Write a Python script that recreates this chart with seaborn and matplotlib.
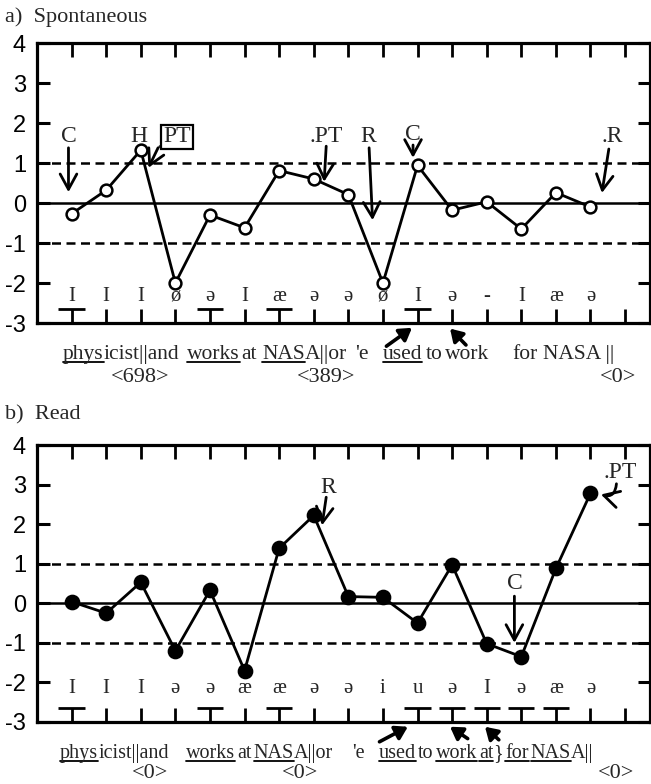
import matplotlib
matplotlib.use("Agg")
import matplotlib.pyplot as plt
from matplotlib.lines import Line2D
import numpy as np
import pandas as pd
import seaborn as sns

# ---------------- data ----------------
positions = list(range(1, 17))
spont_values = [-0.27, 0.32, 1.32, -2.0, -0.3, -0.62, 0.81, 0.6, 0.21, -2.0, 0.94, -0.18, 0.03, -0.65, 0.26, -0.1]
read_values = [0.04, -0.25, 0.53, -1.2, 0.33, -1.7, 1.39, 2.22, 0.17, 0.15, -0.5, 0.97, -1.02, -1.35, 0.88, 2.78]
spont_phonemes = ['I', 'I', 'I', 'ø', 'ə', 'I', 'æ', 'ə', 'ə', 'ø', 'I', 'ə', '-', 'I', 'æ', 'ə']
read_phonemes = ['I', 'I', 'I', 'ə', 'ə', 'æ', 'æ', 'ə', 'ə', 'i', 'u', 'ə', 'I', 'ə', 'æ', 'ə']
spont_stressed = [1, 5, 7, 11]
read_stressed = [1, 5, 7, 11, 12, 13, 14, 15]
xtick_positions = list(range(1, 18))
ytick_values = [-3, -2, -1, 0, 1, 2, 3, 4]
ytick_labels = ['-3', '-2', '-1', '0', '1', '2', '3', '4']
panel_titles = ['a)  Spontaneous', 'b)  Read']

# word lines: (x start in px, [(text, underlined), ...])
spont_words = [
    (63, [('phys', True), ('icist||and', False)]),
    (187, [('works', True)]),
    (241, [('at', False)]),
    (262, [('NAS', True), ('A||or', False)]),
    (355, [("'e", False)]),
    (383, [('used', True)]),
    (426, [('to', False)]),
    (444, [('work', False)]),
    (512, [('for', False)]),
    (543, [('NASA ||', False)]),
]
read_words = [
    (60, [('phys', True), ('icist||and', False)]),
    (186, [('works', True)]),
    (232, [('at', False)]),
    (249, [('NAS', True), ('A||or', False)]),
    (352, [("'e", False)]),
    (379, [('used', True)]),
    (418, [('to', False)]),
    (431, [('work', True)]),
    (475, [('at', True), ('}', False)]),
    (497, [('for', True)]),
    (527, [('NAS', True), ('A||', False)]),
]
spont_counts = [('<698>', 140), ('<389>', 326), ('<0>', 618)]
read_counts = [('<0>', 150), ('<0>', 300), ('<0>', 616)]

# ---------------- style ----------------
sns.set_style("ticks")
SERIF = ['Liberation Serif', 'DejaVu Serif']
SANS = ['Liberation Sans', 'DejaVu Sans']
plt.rcParams['font.family'] = SERIF

W, H = 651, 784
fig = plt.figure(figsize=(W / 100, H / 100), dpi=100)
fig.patch.set_facecolor('white')

ax_a = fig.add_axes([37 / W, 1 - 323 / H, 613 / W, 280 / H])
ax_b = fig.add_axes([37 / W, 1 - 722 / H, 613 / W, 277 / H])


def make_panel(ax, values, filled, phonemes, stressed, phon_y):
    df = pd.DataFrame({'pos': positions, 'val': values})
    ax.axhline(0, color='black', lw=1.8, zorder=1)
    for yv in (1, -1):
        ax.axhline(yv, color='black', lw=1.8, ls=(0, (3.6, 2.2)), zorder=1)
    sns.lineplot(data=df, x='pos', y='val', ax=ax, color='black', lw=2.0,
                 marker='o', markersize=8.5 if not filled else 9.5,
                 markerfacecolor='black' if filled else 'white',
                 markeredgecolor='black', markeredgewidth=1.8, zorder=3)
    ax.set_xlim(0, 17.72)
    ax.set_ylim(-3, 4)
    ax.set_xticks(xtick_positions)
    ax.set_xticklabels([])
    ax.set_yticks(ytick_values)
    ax.set_yticklabels(ytick_labels, fontfamily=SANS, fontsize=17)
    ax.tick_params(axis='x', direction='in', top=True, bottom=True, length=10, width=2, color='black')
    ax.tick_params(axis='y', direction='in', left=True, right=True, length=9, width=2.2,
                   pad=8, color='black', labelcolor='black')
    ax.set_xlabel('')
    ax.set_ylabel('')
    for s in ax.spines.values():
        s.set_linewidth(2.3)
        s.set_color('black')
    for p, ph in zip(positions, phonemes):
        ax.text(p, phon_y, ph, ha='center', va='center', fontsize=15, family=SERIF)
    ax.hlines([-2.64] * len(stressed), [s - 0.38 for s in stressed], [s + 0.38 for s in stressed],
              color='black', lw=2)


make_panel(ax_a, spont_values, False, spont_phonemes, spont_stressed, -2.33)
make_panel(ax_b, read_values, True, read_phonemes, read_stressed, -2.15)

ANN = dict(fontsize=17, family=SERIF)
arrow_open = dict(arrowstyle='->,head_length=0.55,head_width=0.3', color='black', lw=2.0, mutation_scale=20,
                  shrinkA=0, shrinkB=0)
arrow_fill = dict(arrowstyle='-|>,head_length=0.45,head_width=0.28', color='black', lw=2.6, mutation_scale=16,
                  shrinkA=0, shrinkB=0)

# panel a annotations
ax_a.text(0.91, 1.65, 'C', ha='center', va='center', **ANN)
ax_a.annotate('', xy=(0.91, 0.27), xytext=(0.91, 1.38), arrowprops=arrow_open)
ax_a.text(2.95, 1.65, 'H', ha='center', va='center', **ANN)
ax_a.text(3.55, 1.5, '.', ha='center', va='center', **ANN)
ax_a.text(4.05, 1.65, 'PT', ha='center', va='center',
          bbox=dict(boxstyle='square,pad=0.08', fc='white', ec='black', lw=1.6), **ANN)
ax_a.annotate('', xy=(3.22, 0.88), xytext=(3.5, 1.38), arrowprops=arrow_open)
ax_a.text(8.35, 1.65, '.PT', ha='center', va='center', **ANN)
ax_a.annotate('', xy=(8.3, 0.53), xytext=(8.36, 1.42), arrowprops=arrow_open)
ax_a.text(9.58, 1.65, 'R', ha='center', va='center', **ANN)
ax_a.annotate('', xy=(9.7, -0.43), xytext=(9.6, 1.38), arrowprops=arrow_open)
ax_a.text(10.87, 1.72, 'C', ha='center', va='center', **ANN)
ax_a.annotate('', xy=(10.87, 1.13), xytext=(10.87, 1.45), arrowprops=arrow_open)
ax_a.text(16.62, 1.65, '.R', ha='center', va='center', **ANN)
ax_a.annotate('', xy=(16.33, 0.25), xytext=(16.53, 1.35), arrowprops=arrow_open)
ax_a.annotate('', xy=(10.84, -3.12), xytext=(10.1, -3.58), arrowprops=arrow_fill, annotation_clip=False)
ax_a.annotate('', xy=(11.94, -3.14), xytext=(12.4, -3.55), arrowprops=arrow_fill, annotation_clip=False)

# panel b annotations
ax_b.text(8.42, 2.93, 'R', ha='center', va='center', **ANN)
ax_b.annotate('', xy=(8.24, 1.97), xytext=(8.36, 2.68), arrowprops=arrow_open)
ax_b.text(16.85, 3.3, '.PT', ha='center', va='center', **ANN)
ax_b.annotate('', xy=(16.3, 2.75), xytext=(16.75, 3.02),
              arrowprops=dict(arrow_open, connectionstyle='arc3,rad=-0.6'))
ax_b.text(13.8, 0.5, 'C', ha='center', va='center', **ANN)
ax_b.annotate('', xy=(13.8, -1.0), xytext=(13.8, 0.18), arrowprops=arrow_open)
ax_b.annotate('', xy=(10.72, -3.12), xytext=(9.9, -3.5), arrowprops=arrow_fill, annotation_clip=False)
ax_b.annotate('', xy=(11.94, -3.12), xytext=(12.45, -3.42), arrowprops=arrow_fill, annotation_clip=False)
ax_b.annotate('', xy=(12.95, -3.12), xytext=(13.35, -3.45), arrowprops=arrow_fill, annotation_clip=False)

# titles
fig.text(5 / W, 1 - 17 / H, panel_titles[0], ha='left', va='center', fontsize=16, family=SERIF)
fig.text(5 / W, 1 - 415 / H, panel_titles[1], ha='left', va='center', fontsize=16, family=SERIF)

# word lines with underlines
renderer = fig.canvas.get_renderer()


def word_line(groups, baseline_px, fs):
    yb = 1 - baseline_px / H
    prev_end = -1e9
    for x0, pieces in groups:
        x = max(x0, prev_end + 2)
        for s, ul in pieces:
            t = fig.text(x / W, yb, s, ha='left', va='baseline', fontsize=fs, family=SERIF)
            bb = t.get_window_extent(renderer)
            if ul:
                yl = yb - 3 / H
                fig.add_artist(Line2D([bb.x0 / W, bb.x1 / W], [yl, yl], color='black', lw=1.3,
                                      transform=fig.transFigure))
            x = bb.x1
        prev_end = x


word_line(spont_words, 359, 15.5)
word_line(read_words, 758, 14.5)
for s, xc in spont_counts:
    fig.text(xc / W, 1 - 377 / H, s, ha='center', va='center', fontsize=16, family=SERIF)
for s, xc in read_counts:
    fig.text(xc / W, 1 - 773 / H, s, ha='center', va='center', fontsize=16, family=SERIF)

fig.savefig('out.png', dpi=100, facecolor='white')
